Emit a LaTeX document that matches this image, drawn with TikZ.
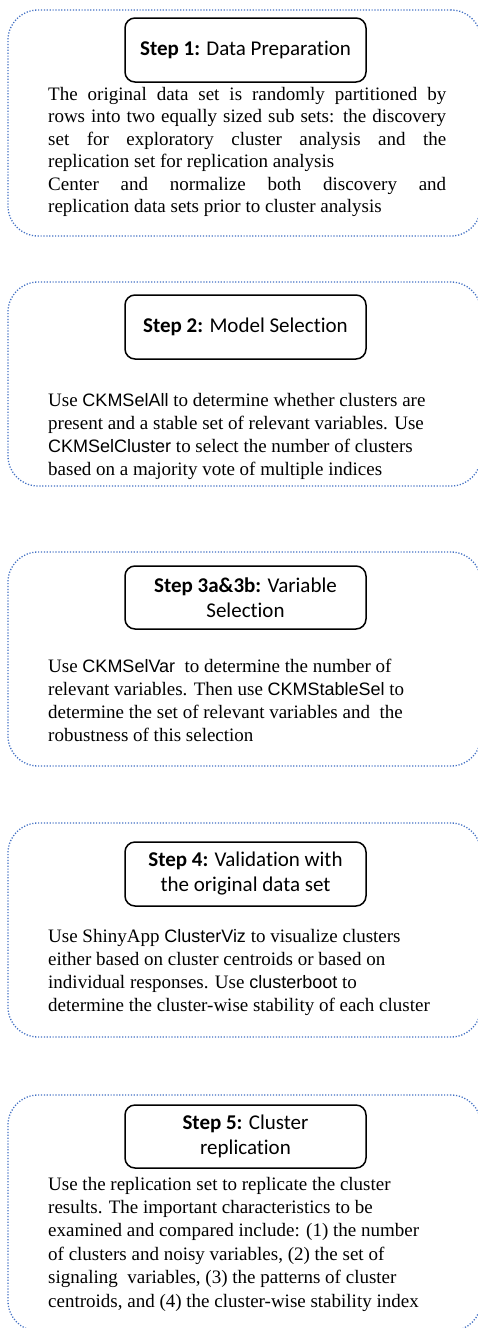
\documentclass[tikz,border=0pt]{standalone}
\usepackage{fontspec}
\setmainfont{Liberation Serif}
\newfontfamily\arialf{Liberation Sans}
\newfontfamily\calibrif[Ligatures=NoCommon]{Carlito}
\definecolor{dotblue}{RGB}{68,114,196}
\newcommand{\prog}[1]{{\arialf\fontsize{18}{23}\selectfont #1}}
\begin{document}
\begin{tikzpicture}[x=1pt,y=-1pt,
  outerbox/.style={draw=dotblue, line width=1.3pt, dash pattern=on 1.2pt off 1.7pt,
    rounded corners=30pt, minimum width=473pt, inner sep=0pt},
  headbox/.style={draw=black, line width=1.5pt, rounded corners=10pt,
    minimum width=241pt, minimum height=64pt, inner sep=0pt, align=center,
    font=\calibrif\fontsize{21}{25}\selectfont},
  bodytext/.style={anchor=north west, inner sep=0pt, align=left,
    font=\fontsize{19}{23}\selectfont}
]
\useasboundingbox (0,0) rectangle (478,1328);
\clip (0,0) rectangle (478,1328);

% outer dotted frames
\node[outerbox, minimum height=226pt] (o1) at (244.5,123) {};
\node[outerbox, minimum height=204pt] (o2) at (244.5,384) {};
\node[outerbox, minimum height=214pt] (o3) at (244.5,659) {};
\node[outerbox, minimum height=214pt] (o4) at (244.5,930) {};
\node[outerbox, minimum height=236pt] (o5) at (244.5,1213) {};

% headings
\node[headbox] (h1) at (245.5,50) {\textbf{Step 1:} Data Preparation};
\node[headbox] (h2) at (245.5,327) {\textbf{Step 2:} Model Selection};
\node[headbox, minimum height=63pt] (h3) at (245.5,597.5) {\textbf{Step 3a\&3b:} Variable\\Selection};
\node[headbox] (h4) at (245.5,874) {\textbf{Step 4:} Validation with\\the original data set};
\node[headbox, minimum height=63pt] (h5) at (245.5,1136.5) {\textbf{Step 5:} Cluster\\replication};

% body texts
\node[bodytext, font=\fontsize{19}{22.5}\selectfont] (t1) at (48,{100-15.75}) {%
\strut\hbox to 398pt{The original data set is randomly partitioned by}\\
\hbox to 398pt{rows into two equally sized sub sets: the discovery}\\
\hbox to 398pt{set for exploratory cluster analysis and the}\\
replication set for replication analysis\\
\hbox to 398pt{Center and normalize both discovery and}\\
replication data sets prior to cluster analysis};

\node[bodytext] (t2) at (48,{406-16.1}) {%
\strut Use \prog{CKMSelAll} to determine whether clusters are\\
present and a stable set of relevant variables. Use\\
\prog{CKMSelCluster} to select the number of clusters\\
based on a majority vote of multiple indices};

\node[bodytext] (t3) at (48,{672-16.1}) {%
\strut Use \prog{CKMSelVar}\ \ to determine the number of\\
relevant variables. Then use \prog{CKMStableSel} to\\
determine the set of relevant variables and\ \ the\\
robustness of this selection};

\node[bodytext] (t4) at (48,{942-16.1}) {%
\strut Use ShinyApp \prog{ClusterViz} to visualize clusters\\
either based on cluster centroids or based on\\
individual responses. Use \prog{clusterboot} to\\
determine the cluster-wise stability of each cluster};

\node[bodytext, font=\fontsize{19}{23.4}\selectfont] (t5) at (48,{1190-16.4}) {%
\strut Use the replication set to replicate the cluster\\
results. The important characteristics to be\\
examined and compared include: (1) the number\\
of clusters and noisy variables, (2) the set of\\
signaling\ \ variables, (3) the patterns of cluster\\
centroids, and (4) the cluster-wise stability index};
\end{tikzpicture}
\end{document}
